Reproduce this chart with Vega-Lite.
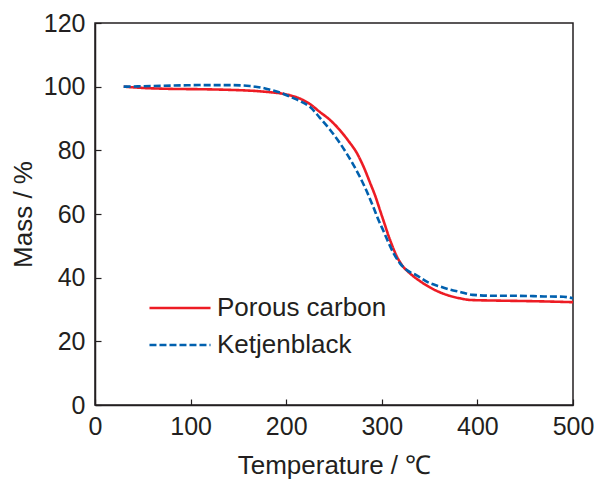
{
  "$schema": "https://vega.github.io/schema/vega-lite/v6.json",
  "width": 478,
  "height": 382,
  "autosize": {"type": "none"},
  "padding": {"left": 95, "top": 23, "right": 21, "bottom": 74},
  "background": "white",
  "config": {
    "font": "Liberation Sans",
    "view": {"stroke": "#231f20", "strokeWidth": 1.5},
    "axis": {
      "grid": false,
      "domainColor": "#231f20",
      "domainWidth": 1.5,
      "tickColor": "#231f20",
      "tickWidth": 1.2,
      "tickSize": -6,
      "labelFont": "Liberation Sans",
      "labelFontSize": 25,
      "labelColor": "#231f20",
      "titleFont": "Liberation Sans",
      "titleFontSize": 26,
      "titleFontWeight": "normal",
      "titleColor": "#231f20"
    },
    "legend": {
      "labelFont": "Liberation Sans",
      "labelFontSize": 26,
      "labelColor": "#231f20",
      "labelLimit": 400
    }
  },
  "data": {
    "values": [
      {"series": "Porous carbon", "T": 30, "mass": 100.0},
      {"series": "Porous carbon", "T": 50, "mass": 99.6},
      {"series": "Porous carbon", "T": 80, "mass": 99.3},
      {"series": "Porous carbon", "T": 110, "mass": 99.2},
      {"series": "Porous carbon", "T": 140, "mass": 99.0},
      {"series": "Porous carbon", "T": 170, "mass": 98.6},
      {"series": "Porous carbon", "T": 185, "mass": 98.2},
      {"series": "Porous carbon", "T": 194, "mass": 97.9},
      {"series": "Porous carbon", "T": 205, "mass": 97.2},
      {"series": "Porous carbon", "T": 214, "mass": 96.3},
      {"series": "Porous carbon", "T": 225, "mass": 94.5},
      {"series": "Porous carbon", "T": 235, "mass": 92.1},
      {"series": "Porous carbon", "T": 246, "mass": 89.5},
      {"series": "Porous carbon", "T": 256, "mass": 86.4},
      {"series": "Porous carbon", "T": 265, "mass": 83.0},
      {"series": "Porous carbon", "T": 274, "mass": 79.1},
      {"series": "Porous carbon", "T": 281, "mass": 74.8},
      {"series": "Porous carbon", "T": 288, "mass": 69.6},
      {"series": "Porous carbon", "T": 293, "mass": 65.8},
      {"series": "Porous carbon", "T": 298, "mass": 61.3},
      {"series": "Porous carbon", "T": 303, "mass": 56.8},
      {"series": "Porous carbon", "T": 307, "mass": 53.2},
      {"series": "Porous carbon", "T": 311, "mass": 50.0},
      {"series": "Porous carbon", "T": 316, "mass": 46.5},
      {"series": "Porous carbon", "T": 322, "mass": 43.6},
      {"series": "Porous carbon", "T": 330, "mass": 41.2},
      {"series": "Porous carbon", "T": 340, "mass": 38.9},
      {"series": "Porous carbon", "T": 350, "mass": 37.0},
      {"series": "Porous carbon", "T": 360, "mass": 35.5},
      {"series": "Porous carbon", "T": 371, "mass": 34.3},
      {"series": "Porous carbon", "T": 382, "mass": 33.5},
      {"series": "Porous carbon", "T": 392, "mass": 33.0},
      {"series": "Porous carbon", "T": 420, "mass": 32.8},
      {"series": "Porous carbon", "T": 460, "mass": 32.6},
      {"series": "Porous carbon", "T": 500, "mass": 32.3},
      {"series": "Ketjenblack", "T": 30, "mass": 100.0},
      {"series": "Ketjenblack", "T": 60, "mass": 100.2},
      {"series": "Ketjenblack", "T": 90, "mass": 100.4},
      {"series": "Ketjenblack", "T": 110, "mass": 100.5},
      {"series": "Ketjenblack", "T": 140, "mass": 100.5},
      {"series": "Ketjenblack", "T": 162, "mass": 100.2},
      {"series": "Ketjenblack", "T": 180, "mass": 99.3},
      {"series": "Ketjenblack", "T": 194, "mass": 98.1},
      {"series": "Ketjenblack", "T": 205, "mass": 96.7},
      {"series": "Ketjenblack", "T": 215, "mass": 95.4},
      {"series": "Ketjenblack", "T": 225, "mass": 93.6},
      {"series": "Ketjenblack", "T": 235, "mass": 90.3},
      {"series": "Ketjenblack", "T": 246, "mass": 86.4},
      {"series": "Ketjenblack", "T": 255, "mass": 82.8},
      {"series": "Ketjenblack", "T": 263, "mass": 79.1},
      {"series": "Ketjenblack", "T": 270, "mass": 75.6},
      {"series": "Ketjenblack", "T": 277, "mass": 71.7},
      {"series": "Ketjenblack", "T": 284, "mass": 67.3},
      {"series": "Ketjenblack", "T": 291, "mass": 62.3},
      {"series": "Ketjenblack", "T": 297, "mass": 57.8},
      {"series": "Ketjenblack", "T": 302, "mass": 54.5},
      {"series": "Ketjenblack", "T": 307, "mass": 51.0},
      {"series": "Ketjenblack", "T": 313, "mass": 47.3},
      {"series": "Ketjenblack", "T": 319, "mass": 44.5},
      {"series": "Ketjenblack", "T": 327, "mass": 42.2},
      {"series": "Ketjenblack", "T": 336, "mass": 40.8},
      {"series": "Ketjenblack", "T": 348, "mass": 38.6},
      {"series": "Ketjenblack", "T": 361, "mass": 37.2},
      {"series": "Ketjenblack", "T": 372, "mass": 36.2},
      {"series": "Ketjenblack", "T": 382, "mass": 35.5},
      {"series": "Ketjenblack", "T": 395, "mass": 34.6},
      {"series": "Ketjenblack", "T": 420, "mass": 34.3},
      {"series": "Ketjenblack", "T": 441, "mass": 34.3},
      {"series": "Ketjenblack", "T": 470, "mass": 34.1},
      {"series": "Ketjenblack", "T": 490, "mass": 34.0},
      {"series": "Ketjenblack", "T": 500, "mass": 33.5}
    ]
  },
  "mark": {"type": "line", "strokeWidth": 2.6, "interpolate": "monotone", "clip": true},
  "encoding": {
    "x": {
      "field": "T",
      "type": "quantitative",
      "scale": {"domain": [0, 500], "nice": false},
      "axis": {"values": [0, 100, 200, 300, 400, 500], "labelPadding": 15, "title": "Temperature / ℃", "titlePadding": 13, "labelFlush": false}
    },
    "y": {
      "field": "mass",
      "type": "quantitative",
      "scale": {"domain": [0, 120], "nice": false},
      "axis": {"values": [0, 20, 40, 60, 80, 100, 120], "labelPadding": 16, "title": "Mass / %", "titlePadding": 7, "labelFlush": false}
    },
    "color": {
      "field": "series",
      "type": "nominal",
      "scale": {"domain": ["Porous carbon", "Ketjenblack"], "range": ["#ed1c24", "#0060ae"]},
      "legend": {
        "title": null,
        "orient": "none",
        "legendX": 72,
        "legendY": 272,
        "symbolType": "M-3,0H3",
        "symbolSize": 414,
        "symbolStrokeWidth": 2.6,
        "labelOffset": 24,
        "rowPadding": 11
      }
    },
    "strokeDash": {
      "field": "series",
      "type": "nominal",
      "scale": {"domain": ["Porous carbon", "Ketjenblack"], "range": [[1, 0], [7, 3]]},
      "legend": {
        "title": null,
        "orient": "none",
        "legendX": 72,
        "legendY": 272,
        "symbolType": "M-3,0H3",
        "symbolSize": 414,
        "symbolStrokeWidth": 2.6,
        "labelOffset": 24,
        "rowPadding": 11
      }
    }
  }
}
